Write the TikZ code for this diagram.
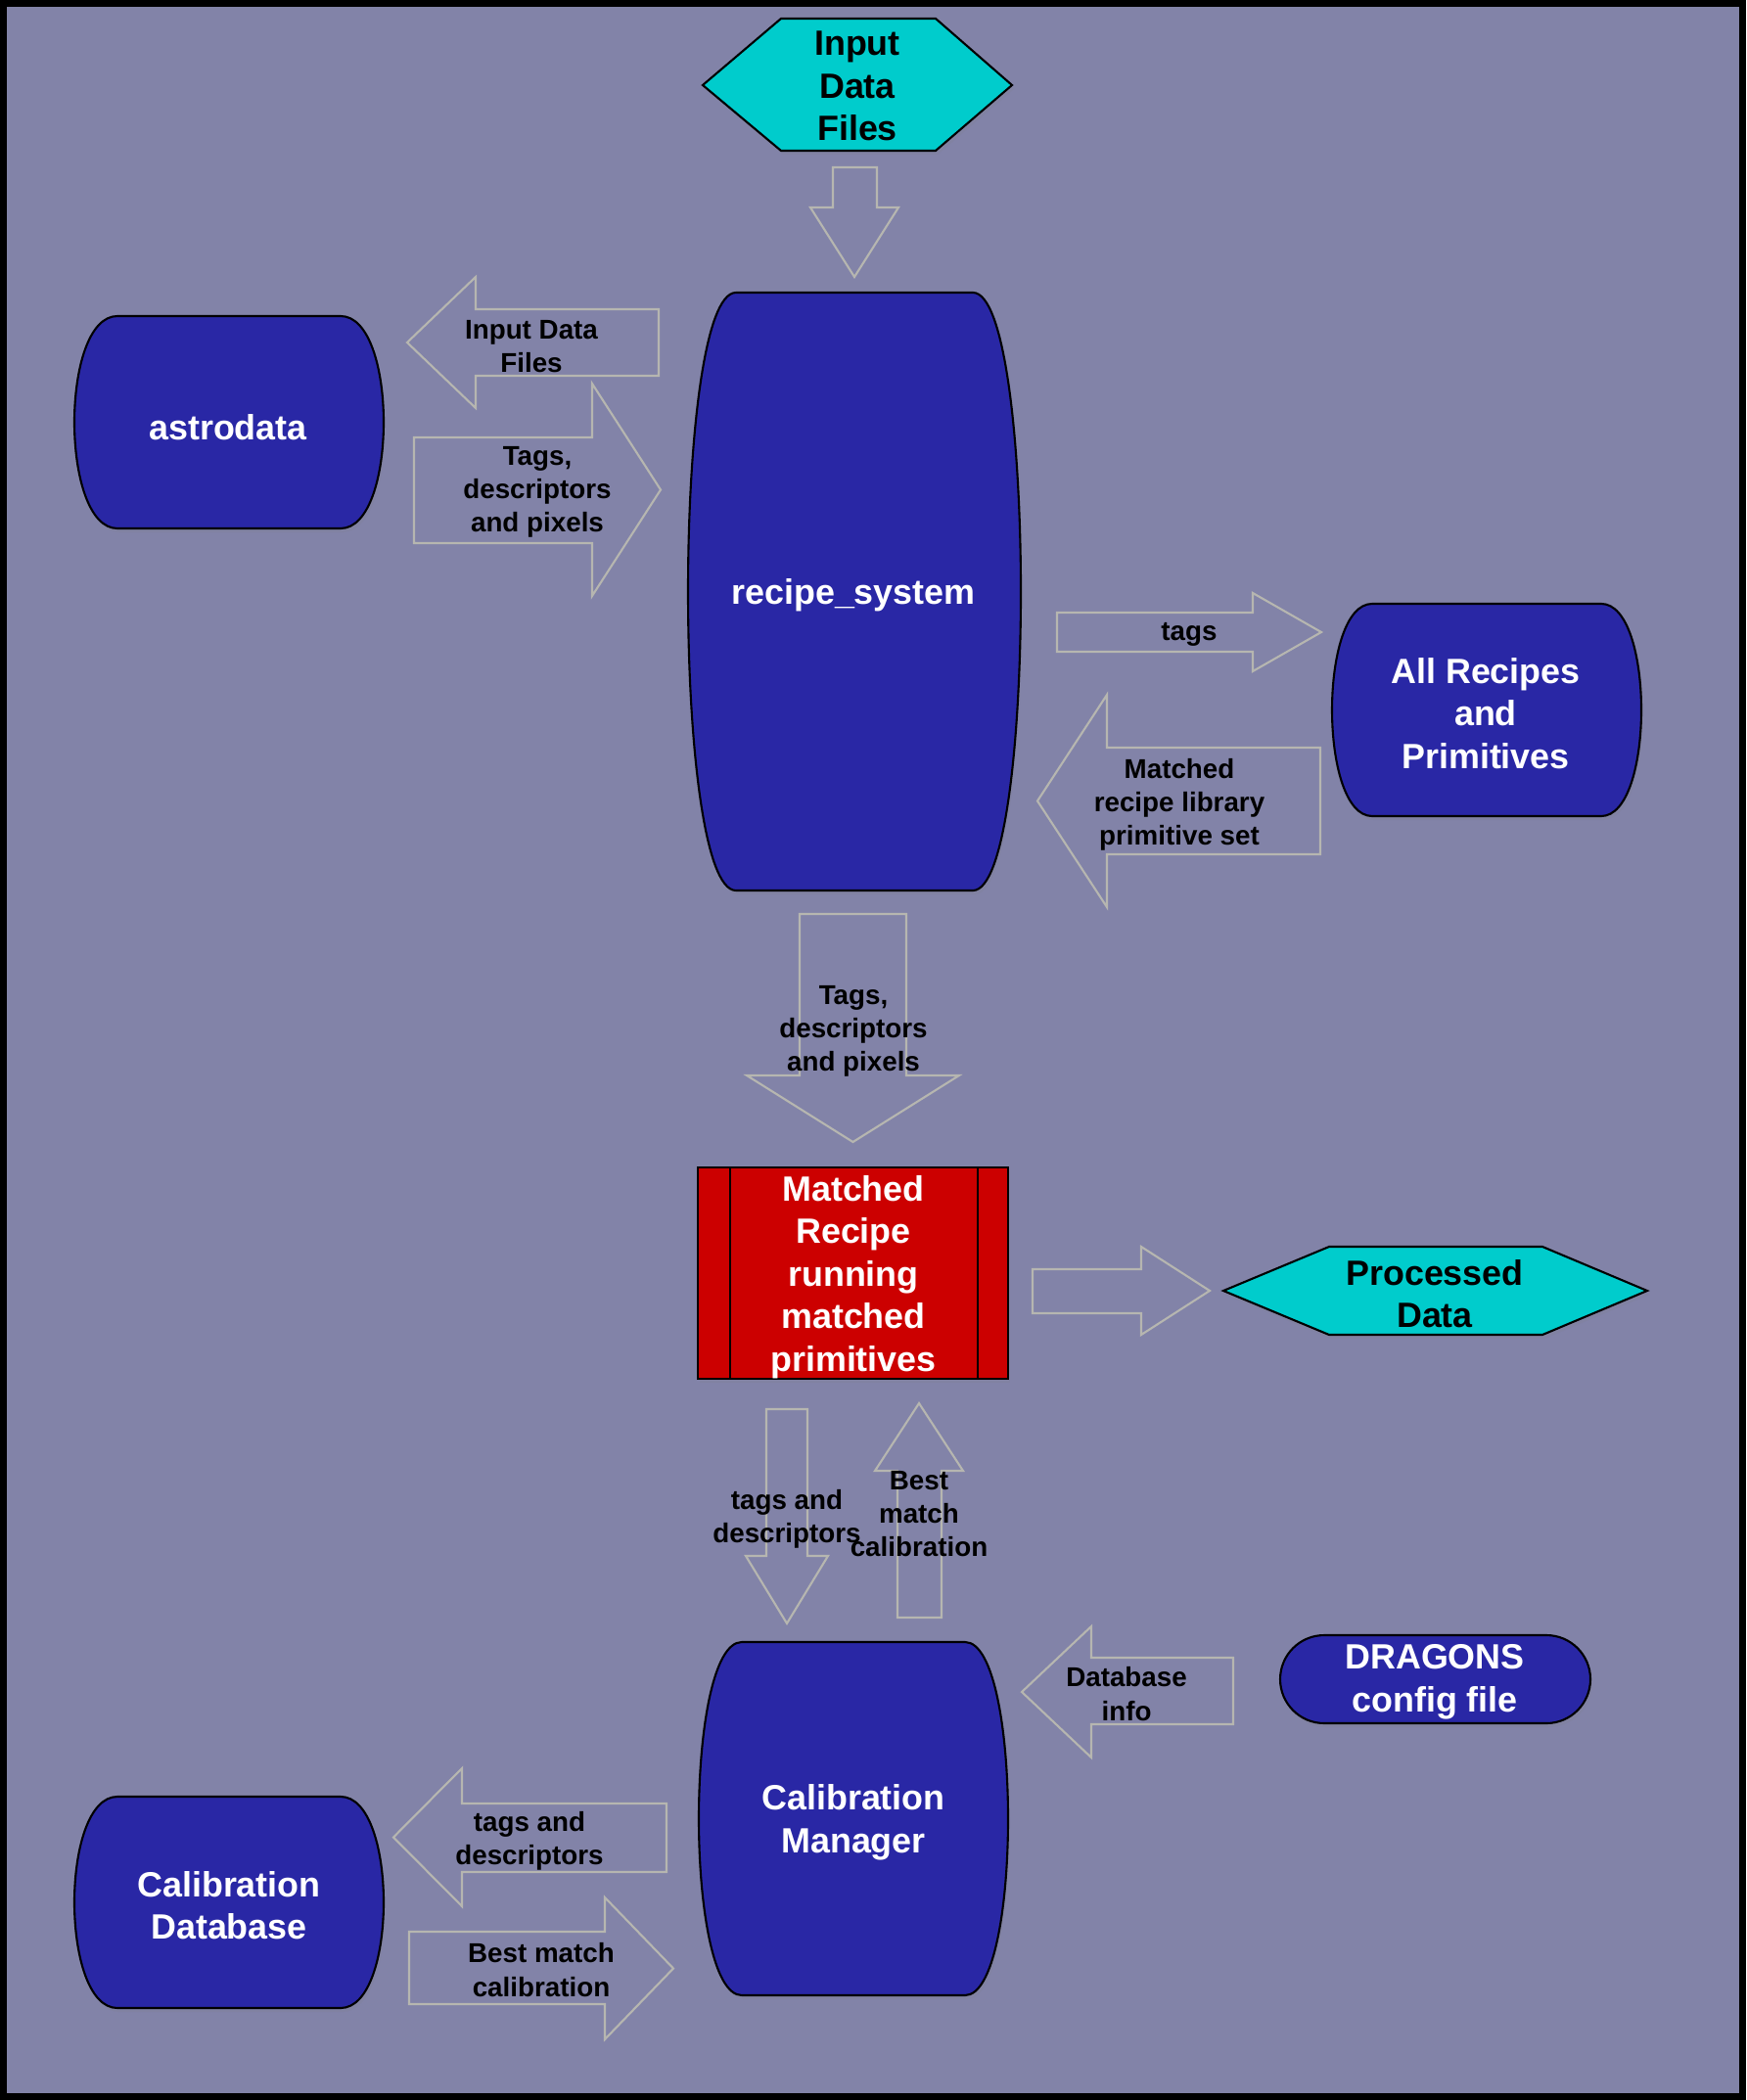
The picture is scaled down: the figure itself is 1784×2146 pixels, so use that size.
\documentclass[tikz,border=0pt]{standalone}
\usepackage{fontspec}
\setmainfont{Liberation Sans}
\usetikzlibrary{shadows}
\definecolor{bgpurple}{RGB}{130,131,168}
\definecolor{nodeblue}{RGB}{41,39,165}
\definecolor{hexcyan}{RGB}{0,204,204}
\definecolor{boxred}{RGB}{204,0,0}
\definecolor{arrowgray}{RGB}{182,182,176}
\begin{document}
\begin{tikzpicture}[x=0.01cm,y=-0.01cm,
  shapeline/.style={draw=black,line width=0.6pt,
    drop shadow={opacity=0.15,shadow xshift=0.02cm,shadow yshift=-0.04cm}},
  barrelnode/.style={shapeline,fill=nodeblue},
  hexnode/.style={shapeline,fill=hexcyan},
  blockarrow/.style={draw=arrowgray,line width=0.6pt,line join=miter},
  maintext/.style={font=\bfseries\fontsize{10.2}{12.4}\selectfont,align=center,inner sep=0pt},
  lbl/.style={font=\bfseries\fontsize{7.9}{9.7}\selectfont,align=center,inner sep=0pt}]
\useasboundingbox (0,0) rectangle (1784,2146);
\fill[bgpurple] (0,0) rectangle (1784,2146);
\draw[line width=0.07cm] (3.5,3.5) rectangle (1780.5,2142.5);
% horizontal block arrows: shaft end / head base / tip / shaft y / head y
\foreach \xs/\xh/\xt/\ya/\yb/\ha/\hb in {673/486/416/316/384/283/417,
  423/605/675/447/555/392/609, 1080/1280/1350/626/666/606/686,
  1349/1131/1060/764/873/710/927, 1055/1166/1236/1297/1342/1274/1364,
  1260/1115/1044/1694/1762/1662/1796, 681/472/402/1843/1913/1807/1948,
  418/618/688/1974/2048/1939/2084}
 \draw[blockarrow] (\xs,\ya)--(\xh,\ya)--(\xh,\ha)--(\xt,{(\ha+\hb)/2})
   --(\xh,\hb)--(\xh,\yb)--(\xs,\yb)--cycle;
% vertical block arrows
\foreach \ys/\yh/\yt/\xa/\xb/\ha/\hb in {171/212/283/851/896/828/918,
  934/1099/1167/817/926/763/980, 1440/1590/1659/783/825/762/846,
  1653/1503/1434/917/962/894/984}
 \draw[blockarrow] (\xa,\ys)--(\xa,\yh)--(\ha,\yh)--({(\ha+\hb)/2},\yt)
   --(\hb,\yh)--(\xb,\yh)--(\xb,\ys)--cycle;
% barrel shaped nodes
\foreach \xa/\ya/\xb/\yb/\b in {76/323/392/540/44, 703/299/1043/910/49,
  1361/617/1677/834/41, 714/1678/1030/2039/44, 76/1836/392/2052/44}
 \draw[barrelnode] (\xa+\b,\ya)--(\xb-\b,\ya)
   .. controls (\xb+\b/3,\ya) and (\xb+\b/3,\yb) .. (\xb-\b,\yb)
   --(\xa+\b,\yb) .. controls (\xa-\b/3,\yb) and (\xa-\b/3,\ya) .. (\xa+\b,\ya)--cycle;
% hexagons
\draw[hexnode] (718,87)--(798,19)--(956,19)--(1034,87)--(956,154)--(798,154)--cycle;
\draw[hexnode] (1250,1319)--(1358,1274)--(1576,1274)--(1683,1319)--(1576,1364)--(1358,1364)--cycle;
% matched recipe box
\draw[shapeline,fill=boxred] (713,1193) rectangle (1030,1409);
\draw[line width=0.6pt] (746,1193)--(746,1409) (999,1193)--(999,1409);
% config file
\draw[shapeline,fill=nodeblue,rounded corners=0.45cm] (1308,1671) rectangle (1625,1761);
% node texts
\node[maintext] (inputfiles) at (876,88) {Input\\Data\\Files};
\node[maintext,white] (astrodata) at (233,437) {astrodata};
\node[maintext,white] (recipesys) at (872,608) {recipe\_system};
\node[maintext,white] (allrecipes) at (1518,729) {All Recipes\\and\\Primitives};
\node[maintext,white] (matched) at (872,1305) {Matched\\Recipe\\running\\matched\\primitives};
\node[maintext] (processed) at (1466,1322) {Processed\\Data};
\node[maintext,white] (calmgr) at (872,1862) {Calibration\\Manager};
\node[maintext,white] (dragons) at (1466,1719) {DRAGONS\\config file};
\node[maintext,white] (caldb) at (234,1947) {Calibration\\Database};
% arrow labels
\node[lbl] (lblinput) at (543,354) {Input Data\\Files};
\node[lbl] (lbltags) at (549,503) {Tags,\\descriptors\\and pixels};
\node[lbl] (lbltagsrec) at (1215,648) {tags};
\node[lbl] (lblmatch) at (1205,822) {Matched\\recipe library\\primitive set};
\node[lbl] (lbltagsmid) at (872,1054) {Tags,\\descriptors\\and pixels};
\node[lbl] (lbltagscal) at (804,1552) {tags and\\descriptors};
\node[lbl] (lblbestup) at (939,1547) {Best\\match\\calibration};
\node[lbl] (lbldbinfo) at (1151,1731) {Database\\info};
\node[lbl] (lbltagsdb) at (541,1881) {tags and\\descriptors};
\node[lbl] (lblbestdb) at (553,2013) {Best match\\calibration};
\end{tikzpicture}
\end{document}
